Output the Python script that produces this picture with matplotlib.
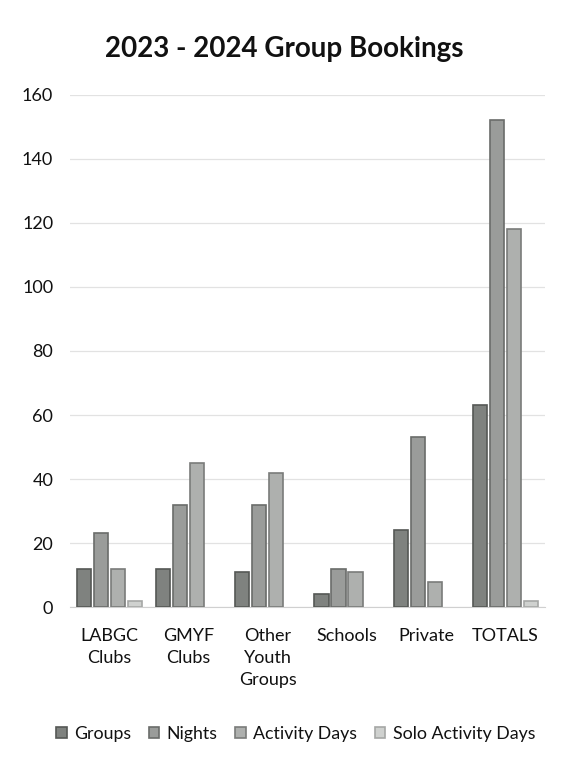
import matplotlib.pyplot as plt
import numpy as np

plt.rcParams['font.family'] = ['Lato', 'DejaVu Sans']

categories = ["LABGC\nClubs", "GMYF\nClubs", "Other\nYouth\nGroups", "Schools", "Private", "TOTALS"]
groups = [12, 12, 11, 4, 24, 63]
nights = [23, 32, 32, 12, 53, 152]
activity_days = [12, 45, 42, 11, 8, 118]
solo_activity_days = [2, 0, 0, 0, 0, 2]

series = [
    ("Groups", groups, "#7f827f", "#555855"),
    ("Nights", nights, "#9a9c9a", "#6a6c6a"),
    ("Activity Days", activity_days, "#aeb0ae", "#7a7c7a"),
    ("Solo Activity Days", solo_activity_days, "#cfd1cf", "#a5a7a5"),
]

fig = plt.figure(figsize=(5.63, 7.58), dpi=100)
ax = fig.add_axes([0.124, 0.199, 0.844, 0.676])

x = np.arange(len(categories))
width = 0.18
step = 0.215
for i, (name, vals, color, edge) in enumerate(series):
    bars = ax.bar(x + (i - 1.5) * step, vals, width, color=color, edgecolor=edge,
                  linewidth=1.2, label=name, zorder=3)
    # empty bars should not leave an outline on the baseline
    for b, v in zip(bars, vals):
        if v == 0:
            b.set_visible(False)

ax.set_xlim(-0.5, 5.5)
ax.set_ylim(0, 160)
ax.set_yticks(range(0, 161, 20))
ax.set_xticks(x)
ax.set_xticklabels(categories, fontsize=13, color="#111111", linespacing=1.45)
ax.tick_params(axis="y", labelsize=13, colors="#111111", length=0, pad=12)
ax.tick_params(axis="x", length=0, pad=15)
ax.grid(axis="y", color="#e2e2e2", linewidth=0.9, zorder=0)
for side in ["top", "right", "left"]:
    ax.spines[side].set_visible(False)
ax.spines["bottom"].set_color("#d0d0d0")

fig.suptitle("2023 - 2024 Group Bookings", fontsize=20, fontweight="bold",
             color="#111111", y=0.953, x=0.505)

fig.legend(loc="lower center", bbox_to_anchor=(0.525, 0.0), ncol=4, frameon=False,
           fontsize=12.8, handlelength=0.6, handleheight=0.6, handletextpad=0.4,
           columnspacing=1.0, labelcolor="#111111")

fig.savefig("out.png", dpi=100, facecolor="white")
